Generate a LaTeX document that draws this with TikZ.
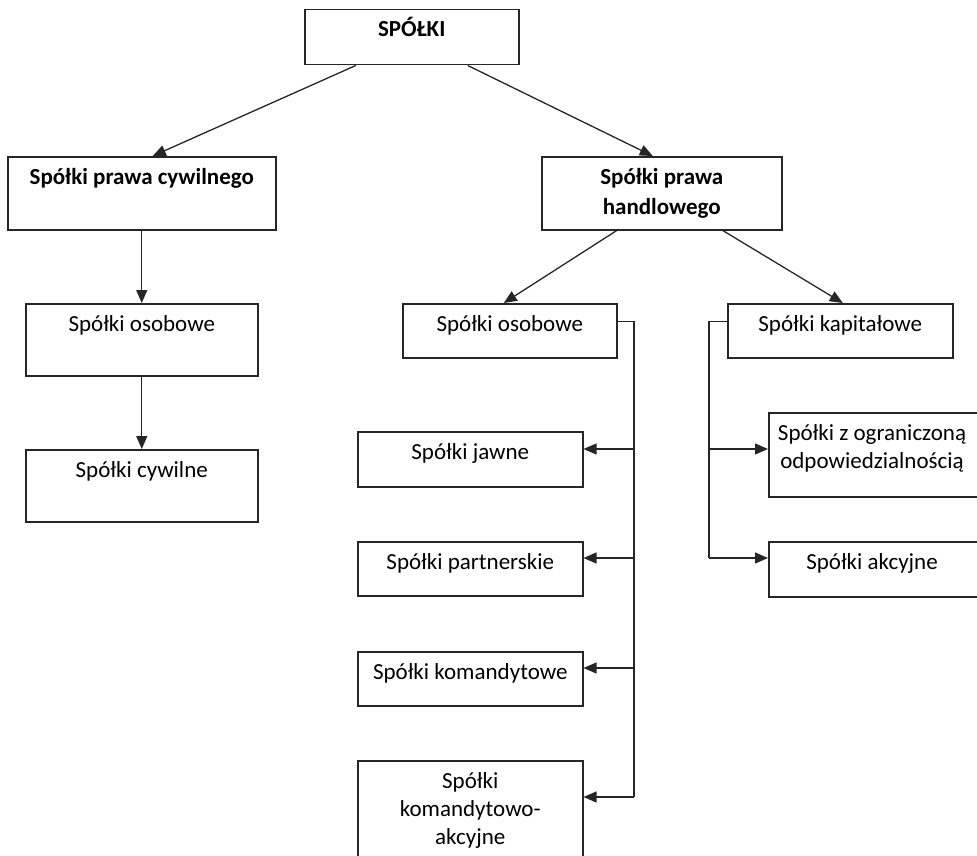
\documentclass[tikz,border=0pt]{standalone}
\usepackage{fontspec}
\setmainfont{Carlito}
\usetikzlibrary{arrows.meta,calc}

\tikzset{
  box/.style={draw=black!85, line width=1.5pt, fill=white, inner sep=0pt, anchor=north west},
  lbl/.style={anchor=base, align=center, inner sep=0pt, text=black,
              font=\fontsize{23}{28}\selectfont},
  bold/.style={font=\fontsize{23}{30}\selectfont\bfseries},
  conn/.style={draw=black!85, line width=1.3pt},
  arr/.style={conn, -{Triangle[length=13pt,width=11pt]}},
}

\begin{document}
\begin{tikzpicture}[x=1pt, y=-1pt]
\useasboundingbox (0,0) rectangle (977,856);

% --- boxes ---------------------------------------------------------------
\node[box, minimum width=214pt, minimum height=55pt] (top)   at (304,9)   {};
\node[box, minimum width=268pt, minimum height=73pt] (civ)   at (7,156)   {};
\node[box, minimum width=240pt, minimum height=73pt] (han)   at (541,156) {};
\node[box, minimum width=232pt, minimum height=72pt] (losob) at (25,303)  {};
\node[box, minimum width=232pt, minimum height=72pt] (lcyw)  at (25,449)  {};
\node[box, minimum width=214pt, minimum height=54pt] (mosob) at (402,303) {};
\node[box, minimum width=225pt, minimum height=54pt] (kap)   at (727,303) {};
\node[box, minimum width=225pt, minimum height=55pt] (jaw)   at (357,431) {};
\node[box, minimum width=225pt, minimum height=54pt] (par)   at (357,541) {};
\node[box, minimum width=225pt, minimum height=54pt] (kom)   at (357,651) {};
\node[box, minimum width=225pt, minimum height=110pt] (koa)  at (357,760) {};
\node[box, minimum width=212pt, minimum height=84pt] (zoo)   at (768,412) {};
\node[box, minimum width=212pt, minimum height=55pt] (akc)   at (768,541) {};

% --- labels (a multi-line label sits on the baseline of its last line) ----
\node[lbl, bold] (topT)   at ([yshift=-28pt]top.north)   {SPÓŁKI};
\node[lbl, bold] (civT)   at ([yshift=-28pt]civ.north)   {Spółki prawa cywilnego};
\node[lbl, bold] (hanT)   at ([yshift=-58pt]han.north)   {Spółki prawa\\handlowego};
\node[lbl]       (losobT) at ([yshift=-28pt]losob.north) {Spółki osobowe};
\node[lbl]       (lcywT)  at ([yshift=-28pt]lcyw.north)  {Spółki cywilne};
\node[lbl]       (mosobT) at ([yshift=-28pt]mosob.north) {Spółki osobowe};
\node[lbl]       (kapT)   at ([yshift=-28pt]kap.north)   {Spółki kapitałowe};
\node[lbl]       (jawT)   at ([yshift=-28pt]jaw.north)   {Spółki jawne};
\node[lbl]       (parT)   at ([yshift=-28pt]par.north)   {Spółki partnerskie};
\node[lbl]       (komT)   at ([yshift=-28pt]kom.north)   {Spółki komandytowe};
\node[lbl]       (koaT)   at ([yshift=-84pt]koa.north)   {Spółki\\komandytowo-\\akcyjne};
\node[lbl]       (zooT)   at (872,468)                   {Spółki z ograniczoną\\odpowiedzialnością};
\node[lbl]       (akcT)   at (872,569)                   {Spółki akcyjne};

% --- tree connectors -----------------------------------------------------
\draw[arr] ([xshift=-56pt]top.south) -- ([xshift=11pt]civ.north);
\draw[arr] ([xshift=56pt]top.south)  -- ([xshift=-9pt]han.north);
\draw[arr] (civ.south)   -- (losob.north);
\draw[arr] (losob.south) -- (lcyw.north);
\draw[arr] ([xshift=-45pt]han.south) -- ([xshift=-6pt]mosob.north);
\draw[arr] ([xshift=61pt]han.south)  -- ([xshift=2.5pt]kap.north);

% --- entry points on the box edges ----------------------------------------
\coordinate (jawIn) at ([yshift=-18pt]jaw.north east);
\coordinate (parIn) at ([yshift=-17pt]par.north east);
\coordinate (komIn) at ([yshift=-17pt]kom.north east);
\coordinate (koaIn) at ([yshift=-37pt]koa.north east);
\coordinate (zooIn) at ([yshift=-37pt]zoo.north west);
\coordinate (akcIn) at ([yshift=-17pt]akc.north west);

% --- bus of the partnership companies -------------------------------------
\coordinate (busR) at (634,797);
\draw[conn] ([yshift=9pt]mosob.east) -| (busR);
\draw[arr] (busR) -- (koaIn);
\draw[arr] (busR |- jawIn) -- (jawIn);
\draw[arr] (busR |- parIn) -- (parIn);
\draw[arr] (busR |- komIn) -- (komIn);

% --- bus of the capital companies -----------------------------------------
\coordinate (busK) at (709,558);
\draw[conn] ([yshift=9pt]kap.west) -| (busK);
\draw[arr] (busK) -- (akcIn);
\draw[arr] (busK |- zooIn) -- (zooIn);
\end{tikzpicture}
\end{document}
